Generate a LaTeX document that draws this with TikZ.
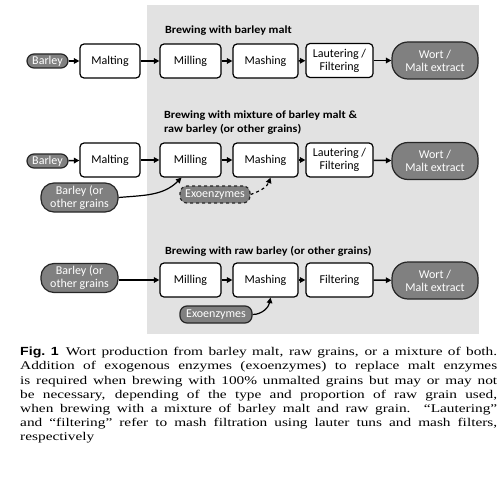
\documentclass[tikz,border=0pt]{standalone}
\usepackage{fontspec}
\setmainfont{Liberation Serif}
\newfontfamily\capfont[FakeStretch=1.3,Ligatures=TeX]{Liberation Serif}
\newfontfamily\diagfont{Carlito}
\newfontfamily\ttlfont[FakeStretch=1.1]{Carlito}
\newfontfamily\figfont[FakeStretch=1.2]{Liberation Sans}
\usetikzlibrary{arrows.meta}
\definecolor{bggray}{RGB}{226,226,226}
\definecolor{nodegray}{RGB}{128,128,128}
\begin{document}
\begin{tikzpicture}[x=1pt,y=-1pt,
  proc/.style={draw=black,line width=1.2pt,rounded corners=4pt,fill=white,
    font=\diagfont\fontsize{12}{13}\selectfont,align=center,inner sep=0pt},
  term/.style={draw=black!85,line width=1.2pt,rounded corners=7pt,fill=nodegray,text=white,
    font=\diagfont\fontsize{12}{13}\selectfont,align=center,inner sep=0pt},
  flow/.style={line width=1.5pt,-{Triangle[length=5.5pt,width=5.5pt]}},
  ttl/.style={font=\ttlfont\bfseries\fontsize{11}{13.5}\selectfont,anchor=west,align=left,inner sep=0pt}]
\useasboundingbox (0,0) rectangle (502,484);
\fill[bggray] (147,5) rectangle (479,334);
% Row 1
\node[ttl] (t1) at (165,31) {Brewing with barley malt};
\node[term,minimum width=41pt,minimum height=14pt] (b1) at (47.5,61) {Barley};
\node[proc,minimum width=60pt,minimum height=34pt] (ma1) at (110,61) {Malting};
\node[proc,minimum width=61pt,minimum height=34pt] (mi1) at (190.5,61) {Milling};
\node[proc,minimum width=65pt,minimum height=34pt] (ms1) at (265.5,61) {Mashing};
\node[proc,minimum width=67pt,minimum height=34pt] (la1) at (339.5,60.5) {Lautering /\\Filtering};
\node[term,rounded corners=16pt,minimum width=86pt,minimum height=37pt] (w1) at (435,60.5) {Wort /\\Malt extract};
\draw[flow] (b1) -- (ma1);
\draw[flow] (ma1) -- (mi1);
\draw[flow] (mi1) -- (ms1);
\draw[flow] (ms1) -- (la1);
\draw[flow] (la1) -- (w1);
% Row 2
\node[ttl] (t2) at (164,122.5) {Brewing with mixture of barley malt \&\\raw barley (or other grains)};
\node[term,minimum width=41pt,minimum height=14pt] (b2) at (47.5,161) {Barley};
\node[proc,minimum width=60pt,minimum height=34pt] (ma2) at (110,160) {Malting};
\node[proc,minimum width=61pt,minimum height=34pt] (mi2) at (190.5,160) {Milling};
\node[proc,minimum width=65pt,minimum height=34pt] (ms2) at (265.5,160) {Mashing};
\node[proc,minimum width=67pt,minimum height=34pt] (la2) at (339.5,160) {Lautering /\\Filtering};
\node[term,rounded corners=16pt,minimum width=86pt,minimum height=37pt] (w2) at (435,161) {Wort /\\Malt extract};
\node[term,rounded corners=13pt,minimum width=77pt,minimum height=29pt] (g2) at (79.5,197.5) {Barley (or\\other grains};
\node[term,dashed,rounded corners=7pt,minimum width=70pt,minimum height=17pt] (e2) at (215,194.5) {Exoenzymes};
\draw[flow] (b2) -- (ma2);
\draw[flow] (ma2) -- (mi2);
\draw[flow] (mi2) -- (ms2);
\draw[flow] (ms2) -- (la2);
\draw[flow] (la2) -- (w2);
\draw[flow,line width=1.2pt] (g2.east) to[out=5,in=-135] ([xshift=-9pt]mi2.south);
\draw[flow,line width=1.2pt,dashed] (e2.east) to[out=20,in=-110] ([xshift=5pt]ms2.south);
% Row 3
\node[ttl] (t3) at (165,251) {Brewing with raw barley (or other grains)};
\node[term,rounded corners=13pt,minimum width=77pt,minimum height=29pt] (g3) at (79.5,278) {Barley (or\\other grains};
\node[proc,minimum width=61pt,minimum height=34pt] (mi3) at (190.5,280) {Milling};
\node[proc,minimum width=65pt,minimum height=34pt] (ms3) at (265.5,280) {Mashing};
\node[proc,minimum width=67pt,minimum height=34pt] (fi3) at (339.5,280) {Filtering};
\node[term,rounded corners=16pt,minimum width=86pt,minimum height=37pt] (w3) at (435,280.5) {Wort /\\Malt extract};
\node[term,rounded corners=7pt,minimum width=72pt,minimum height=17pt] (e3) at (216,314.5) {Exoenzymes};
\draw[flow] (g3.east |- mi3.west) -- (mi3);
\draw[flow] (mi3) -- (ms3);
\draw[flow] (ms3) -- (fi3);
\draw[flow] (fi3) -- (w3);
\draw[flow,line width=1.2pt] (e3.east) to[out=0,in=-100] ([xshift=5pt]ms3.south);
% Caption
\node[anchor=north west,inner sep=0pt,text width=477pt,align=justify,
  font=\capfont\fontsize{11.8}{14.2}\selectfont] (cap) at (20,347)
 {{\figfont\bfseries Fig.~1}\hspace{0.6em}Wort production from barley malt, raw grains, or a mixture of both.\linebreak
 Addition of exogenous enzymes (exoenzymes) to replace malt enzymes\linebreak
 is required when brewing with 100\% unmalted grains but may or may not\linebreak
 be necessary, depending of the type and proportion of raw grain used,\linebreak
 when brewing with a mixture of barley malt and raw grain. “Lautering”\linebreak
 and “filtering” refer to mash filtration using lauter tuns and mash filters,\linebreak
 respectively};
\end{tikzpicture}
\end{document}
